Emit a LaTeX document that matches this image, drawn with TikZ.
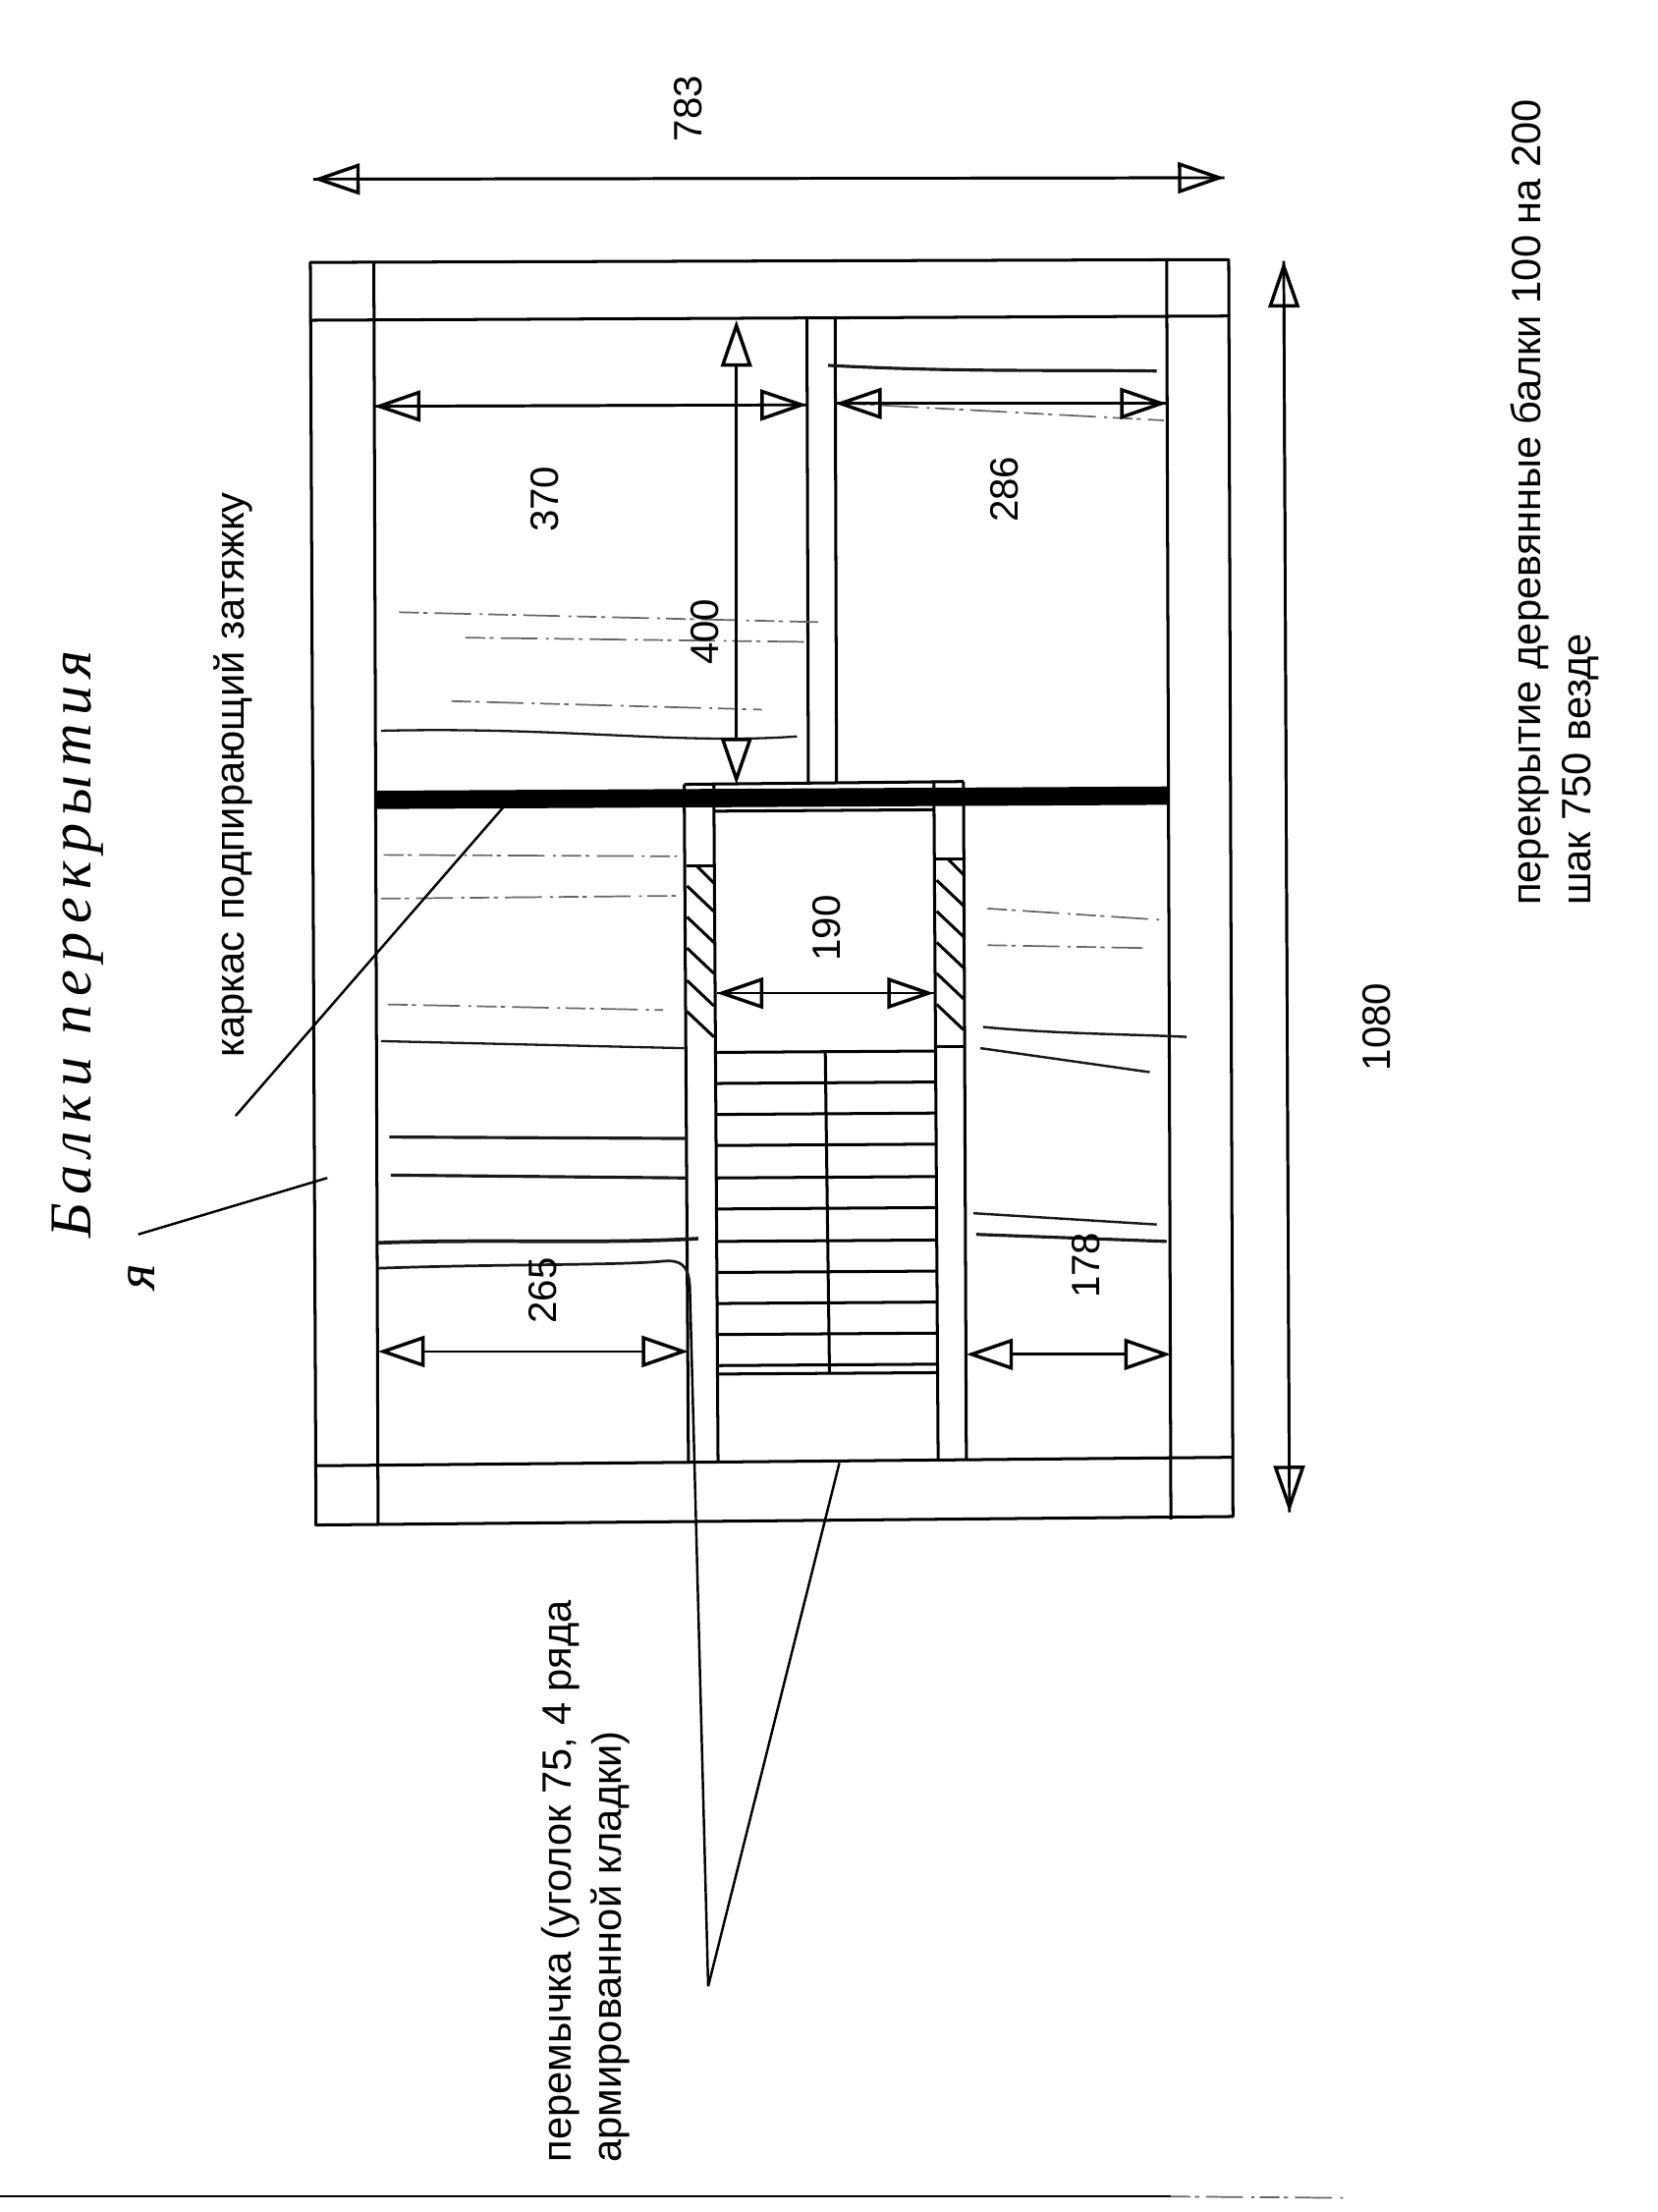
\documentclass[tikz,border=0pt]{standalone}
\usepackage{fontspec}
\setmainfont{Liberation Sans}
\newfontfamily\handfont[LetterSpace=14]{Liberation Serif}
\usetikzlibrary{arrows.meta}
\tikzset{
  wall/.style={line width=2.1pt},
  dimline/.style={line width=1.9pt, {Triangle[open,length=33pt,width=22pt,line width=2.4pt]}-{Triangle[open,length=33pt,width=22pt,line width=2.4pt]}},
  dimthru/.style={line width=1.9pt},
  dimlabel/.style={rotate=90, font=\fontsize{28}{28}\selectfont, inner sep=0pt},
  notelabel/.style={rotate=90, anchor=west, align=left, inner sep=0pt, font=\fontsize{29}{35.5}\selectfont},
  leader/.style={line width=1.7pt},
  pencil/.style={line width=2.2pt, black!90},
  faint/.style={line width=1.2pt, black!60, dash pattern=on 14pt off 3pt on 3pt off 5pt on 26pt off 6pt on 2pt off 4pt},
}
\begin{document}
\begin{tikzpicture}[x=1pt, y=-1pt, line join=round]
\useasboundingbox (0,0) rectangle (1175,1568);

% outer frame
\draw[wall] (220,186)--(871,184)--(874,1075)--(224,1081)--cycle;
\draw[wall] (265,186)--(268,1081);
\draw[wall] (827,184)--(830,1077);
\draw[wall] (220,227)--(871,224);
\draw[wall] (224,1039)--(874,1033);

% tie bar
\draw[line width=13pt] (266,567)--(829,564);

% stair well walls
\draw[wall] (572,226)--(573,556);
\draw[wall] (592,225)--(593,555);
\draw[wall] (485,556)--(683,554);
\draw[wall] (485,556)--(488,1037);
\draw[wall] (506,556)--(509,1037);
\draw[wall] (662,555)--(665,1034);
\draw[wall] (683,554)--(685,1034);
\draw[wall] (506,575)--(662,574);

% hatching
\draw[wall] (487,614)--(506,614);
\draw[wall] (663,609)--(683,609);
\draw[wall] (663,742)--(683,742);
\draw[wall] (494,614)--(506,626);
\foreach \y in {628,650,672,695,717}
  \draw[wall] (487,\y)--(506,\y+18);
\draw[wall] (672,609)--(683,620);
\foreach \y in {624,646,668,690,712}
  \draw[wall] (664,\y)--(683,\y+18);

% steps
\foreach \y in {746,768,790,812,835,857,880,902,924,946,968,974}
  \draw[wall] (508,\y)--(664,\y-1);
\draw[wall] (585,746)--(588,974);

% pencil beams
\draw[faint] (283,434)--(580,441);
\draw[faint] (330,452)--(572,455);
\draw[faint] (320,497)--(540,503);
\draw[pencil, line width=1.6pt] (270,518) .. controls (400,515) and (480,528) .. (565,522);
\draw[pencil] (587,259) .. controls (680,264) and (750,262) .. (820,263);
\draw[faint] (600,286)--(825,298);
\draw[faint] (272,606)--(480,607);
\draw[faint] (270,637)--(480,635);
\draw[faint] (275,712)--(470,716);
\draw[pencil, line width=1.6pt] (270,738)--(485,743);
\draw[pencil] (276,806)--(487,807);
\draw[pencil] (277,833)--(487,835);
\draw[pencil, line width=2.6pt] (268,881) .. controls (350,878) and (420,882) .. (495,878);
\draw[pencil, line width=1.9pt] (268,899) .. controls (350,896) and (440,897) .. (470,894) .. controls (482,893) and (488,896) .. (489,912);
\draw[faint] (700,644)--(822,652);
\draw[faint] (700,670)--(810,672);
\draw[pencil, line width=1.7pt] (697,728) .. controls (750,733) and (800,733) .. (841,735);
\draw[pencil, line width=1.7pt] (695,743)--(815,760);
\draw[pencil, line width=1.7pt] (690,860)--(820,868);
\draw[pencil] (692,875)--(827,880);

% dimensions
\coordinate (w1) at (222,127);
\coordinate (w2) at (868,126);
\coordinate (l1) at (910,185);
\coordinate (l2) at (914,1072);
\coordinate (a1) at (265,288);
\coordinate (a2) at (572,287);
\coordinate (b1) at (592,286);
\coordinate (b2) at (827,286);
\coordinate (c1) at (522,227);
\coordinate (c2) at (522,556);
\coordinate (d1) at (508,704);
\coordinate (d2) at (662,704);
\coordinate (e1) at (268,958);
\coordinate (e2) at (488,958);
\coordinate (f1) at (685,960);
\coordinate (f2) at (830,960);
\draw[dimline] (w1)--(w2);
\draw[dimline] (l1)--(l2);
\draw[dimline] (a1)--(a2);
\draw[dimline] (b1)--(b2);
\draw[dimline] (c1)--(c2);
\draw[dimline] (d1)--(d2);
\draw[dimline] (e1)--(e2);
\draw[dimline] (f1)--(f2);
\draw[dimthru] (w1)--(w2);
\draw[dimthru] (l1)--(l2);
\draw[dimthru] (a1)--(a2);
\draw[dimthru] (b1)--(b2);
\draw[dimthru] (d1)--(d2);
\node[dimlabel] (w) at (488,77) {783};
\node[dimlabel] (l) at (976,728) {1080};
\node[dimlabel] (a) at (386,354) {370};
\node[dimlabel] (b) at (712,347) {286};
\node[dimlabel] (c) at (500,448) {400};
\node[dimlabel] (d) at (586,658) {190};
\node[dimlabel] (e) at (385,915) {265};
\node[dimlabel] (f) at (770,897) {178};

% notes and leaders
\node[notelabel] (frame) at (165,750) {каркас подпирающий затяжку};
\node[notelabel] (lintel) at (415,1533) {перемычка (уголок 75, 4 ряда\\армированной кладки)};
\node[notelabel] (floor) at (1102,642) {перекрытие деревянные балки 100 на 200\\шак 750 везде};
\coordinate (tip) at (502,1408);
\draw[leader] (357,572)--(167,791);
\draw[leader] (232,835)--(98,875);
\draw[leader] (595,1037)--(tip);
\draw[leader] (489,912)--(tip);

% handwriting
\node[rotate=90, anchor=west, inner sep=0pt, font=\handfont\itshape\fontsize{42}{42}\selectfont] (hand) at (55,878) {Балки перекрытия};
\node[rotate=90, inner sep=0pt, font=\handfont\itshape\fontsize{40}{40}\selectfont] (handb) at (100,905) {я};

% scan edge
\draw[line width=1.6pt] (0,1557)--(830,1557);
\draw[faint] (830,1557)--(955,1558);
\end{tikzpicture}
\end{document}
